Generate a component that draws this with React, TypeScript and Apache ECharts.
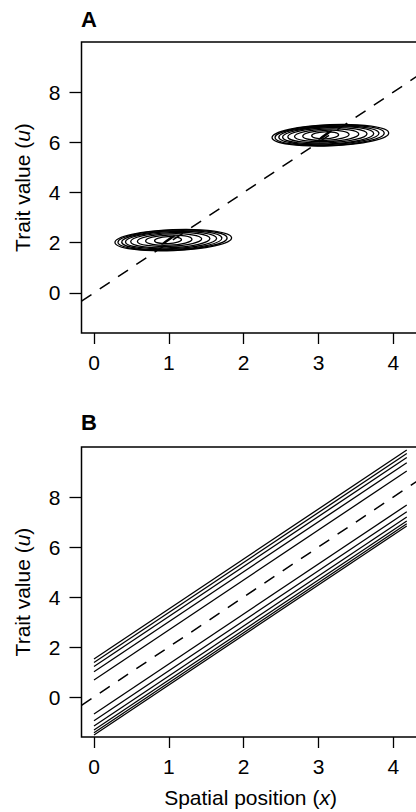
import React, { useEffect, useRef } from "react";
import * as echarts from "echarts";

const FONT = "'Liberation Sans', Arial, Helvetica, sans-serif";

const xTicks = [0, 1, 2, 3, 4];
const yTicks = [0, 2, 4, 6, 8];
const xRange = [-0.167, 4.35];
const yRange = [-1.6, 10];

// Panel A: two clusters of contour ellipses
const clusterCenters = [
  [1.0, 2.1],
  [3.1, 6.28],
];
const contourRx = [0.78, 0.73, 0.67, 0.61, 0.53, 0.43, 0.31, 0.18];
const contourRy = [0.42, 0.4, 0.37, 0.34, 0.3, 0.25, 0.2, 0.14];
const contourDx = [0.06, 0.05, 0.04, 0.03, 0.02, 0.01, 0.0, -0.01];
const innerMarkRx = 0.1;
const innerMarkRy = 0.025;

// Dashed reference line u = slope * x + intercept
const dashedSlope = 2;
const dashedIntercept = 0;

// Panel B: parallel contour lines
const lineIntercepts = [1.52, 1.38, 1.22, 1.01, 0.68, -0.68, -0.95, -1.16, -1.32, -1.43, -1.52];
const lineSlope = 2;
const lineXStart = 0;
const lineXEnd = 4.18;

const FS = 21;

const nameStyle = {
  fontSize: FS,
  color: "#000",
  fontFamily: FONT,
  rich: { i: { fontStyle: "italic", fontSize: FS, color: "#000", fontFamily: FONT } },
};

function makeXAxis(gridIndex: number, withName: boolean) {
  return {
    gridIndex,
    type: "value",
    min: xRange[0],
    max: xRange[1],
    axisLine: { show: false, onZero: false },
    splitLine: { show: false },
    axisTick: {
      show: true,
      customValues: xTicks,
      length: 11,
      lineStyle: { color: "#000", width: 1.3 },
    },
    axisLabel: {
      customValues: xTicks,
      margin: 19,
      fontSize: FS,
      color: "#000",
      fontFamily: FONT,
    },
    name: withName ? "Spatial position ({i|x})" : "",
    nameLocation: "middle",
    nameGap: 50,
    nameTextStyle: nameStyle,
  };
}

function makeYAxis(gridIndex: number) {
  return {
    gridIndex,
    type: "value",
    min: yRange[0],
    max: yRange[1],
    axisLine: { show: false, onZero: false },
    splitLine: { show: false },
    axisTick: {
      show: true,
      customValues: yTicks,
      length: 12,
      lineStyle: { color: "#000", width: 1.3 },
    },
    axisLabel: {
      customValues: yTicks,
      margin: 21,
      fontSize: FS,
      color: "#000",
      fontFamily: FONT,
    },
    name: "Trait value ({i|u})",
    nameLocation: "middle",
    nameGap: 49,
    nameTextStyle: nameStyle,
  };
}

export default function App() {
  const ref = useRef<HTMLDivElement>(null);

  useEffect(() => {
    if (!ref.current) return;
    const chart = echarts.init(ref.current, undefined, { renderer: "svg" });

    const ellipseData: number[][] = [];
    clusterCenters.forEach(([cx, cy]) => {
      contourRx.forEach((rx, i) => {
        ellipseData.push([cx + contourDx[i], cy, rx, contourRy[i], 0]);
      });
      ellipseData.push([cx - 0.01, cy, innerMarkRx, innerMarkRy, 1]);
    });

    const dashedData = [
      [xRange[0], dashedSlope * xRange[0] + dashedIntercept],
      [xRange[1], dashedSlope * xRange[1] + dashedIntercept],
    ];

    const bLines = lineIntercepts.map((b, i) => ({
      type: "line",
      name: "line" + i,
      xAxisIndex: 1,
      yAxisIndex: 1,
      symbol: "none",
      silent: true,
      lineStyle: { color: "#000", width: 1.3 },
      data: [
        [lineXStart, b + lineSlope * lineXStart],
        [lineXEnd, b + lineSlope * lineXEnd],
      ],
    }));

    chart.setOption({
      animation: false,
      backgroundColor: "#fff",
      grid: [
        {
          left: 81.5,
          top: 42,
          width: 338,
          height: 291,
          show: true,
          borderColor: "#000",
          borderWidth: 1.5,
          backgroundColor: "transparent",
        },
        {
          left: 81.5,
          top: 447,
          width: 338,
          height: 290,
          show: true,
          borderColor: "#000",
          borderWidth: 1.5,
          backgroundColor: "transparent",
        },
      ],
      xAxis: [makeXAxis(0, false), makeXAxis(1, true)],
      yAxis: [makeYAxis(0), makeYAxis(1)],
      graphic: [
        {
          type: "text",
          left: 81,
          top: 8,
          style: { text: "A", fontSize: 22, fontWeight: "bold", fill: "#000", fontFamily: FONT },
        },
        {
          type: "text",
          left: 81,
          top: 411,
          style: { text: "B", fontSize: 22, fontWeight: "bold", fill: "#000", fontFamily: FONT },
        },
      ],
      series: [
        {
          type: "custom",
          xAxisIndex: 0,
          yAxisIndex: 0,
          silent: true,
          clip: true,
          data: ellipseData,
          renderItem: (params: any, api: any) => {
            const c = api.coord([api.value(0), api.value(1)]);
            const s = api.size([api.value(2), api.value(3)]);
            const isMark = api.value(4) === 1;
            return {
              type: "ellipse",
              shape: { cx: c[0], cy: c[1], rx: s[0], ry: s[1] },
              originX: c[0],
              originY: c[1],
              rotation: isMark ? 0.6 : 0.04,
              style: { fill: "none", stroke: "#000", lineWidth: 1.3 },
            };
          },
        },
        {
          type: "line",
          xAxisIndex: 0,
          yAxisIndex: 0,
          symbol: "none",
          silent: true,
          lineStyle: { color: "#000", width: 1.5, type: [12, 10] },
          data: dashedData,
        },
        ...bLines,
        {
          type: "line",
          xAxisIndex: 1,
          yAxisIndex: 1,
          symbol: "none",
          silent: true,
          lineStyle: { color: "#000", width: 1.5, type: [12, 10] },
          data: dashedData,
        },
      ],
    });

    return () => chart.dispose();
  }, []);

  return (
    <div
      style={{
        position: "fixed",
        left: 0,
        top: 0,
        width: 416,
        height: 812,
        overflow: "hidden",
        background: "#fff",
      }}
    >
      <div ref={ref} style={{ width: 440, height: 812 }} />
    </div>
  );
}
